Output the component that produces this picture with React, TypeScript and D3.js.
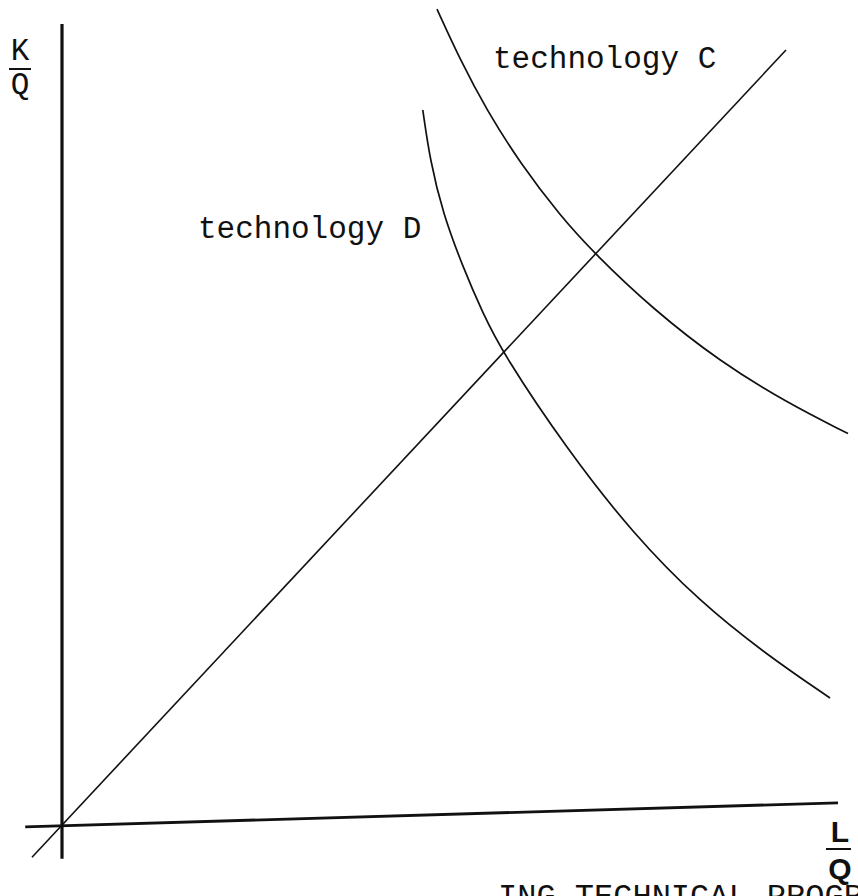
import React from "react";
import * as d3 from "d3";

type Pt = [number, number];

// Isoquant for technology C (L/Q, K/Q)
const techC: Pt[] = [
  [46.875, 102.1], [49.75, 95.8], [53.125, 89.4], [57.25, 82.9], [62.25, 76.3],
  [66.625, 71.5], [73.875, 64.6], [82.25, 58.05], [90.625, 52.9], [98.25, 49.05],
];
// Isoquant for technology D
const techD: Pt[] = [
  [45.1, 89.5], [46, 83.25], [47.6, 76.6], [50.1, 69.9], [52.6, 64.1],
  [55.1, 59.1], [63.1, 47.1], [71.4, 36.5], [79.75, 28], [88.1, 21.4], [96, 16],
];
// Ray from origin (constant K/L ratio)
const ray: Pt[] = [[-3.75, -3.9], [90.5, 97]];
// Axes
const yAxisLine: Pt[] = [[0, -4.1], [0, 100.25]];
const xAxisLine: Pt[] = [[-4.6, -0.1], [97, 2.9]];

const labelC = "technology C";
const labelD = "technology D";
const caption = "ING TECHNICAL PROGRESS";

const W = 858;
const H = 896;

export default function App() {
  const x = d3.scaleLinear().domain([0, 100]).range([62, 862]);
  const y = d3.scaleLinear().domain([0, 100]).range([826, 26]);
  const smooth = d3.line<Pt>().x((d) => x(d[0])).y((d) => y(d[1])).curve(d3.curveBasis);
  const straight = d3.line<Pt>().x((d) => x(d[0])).y((d) => y(d[1]));

  const mono = "'Liberation Mono', 'DejaVu Sans Mono', monospace";
  const sans = "'Liberation Sans', Arial, sans-serif";

  return (
    <svg
      width={W}
      height={H}
      viewBox={`0 0 ${W} ${H}`}
      style={{ position: "absolute", left: 0, top: 0, background: "#fff" }}
    >
      <rect x={0} y={0} width={W} height={H} fill="#fff" />
      {/* axes */}
      <path d={straight(yAxisLine) || ""} stroke="#111" strokeWidth={3.2} fill="none" />
      <path d={straight(xAxisLine) || ""} stroke="#111" strokeWidth={2.8} fill="none" />
      {/* ray */}
      <path d={straight(ray) || ""} stroke="#111" strokeWidth={1.6} fill="none" />
      {/* isoquants */}
      <path d={smooth(techC) || ""} stroke="#111" strokeWidth={1.7} fill="none" />
      <path d={smooth(techD) || ""} stroke="#111" strokeWidth={1.7} fill="none" />

      {/* curve labels */}
      <text x={493} y={68} fontFamily={mono} fontSize={31} fill="#111">{labelC}</text>
      <text x={198} y={238} fontFamily={mono} fontSize={31} fill="#111">{labelD}</text>

      {/* K/Q label */}
      <text x={20} y={60} fontFamily={mono} fontSize={31} textAnchor="middle" fill="#111">K</text>
      <line x1={9} x2={31} y1={69} y2={69} stroke="#111" strokeWidth={2} />
      <text x={20} y={94} fontFamily={mono} fontSize={31} textAnchor="middle" fill="#111">Q</text>

      {/* L/Q label */}
      <text x={840} y={842} fontFamily={sans} fontWeight="bold" fontSize={30} textAnchor="middle" fill="#111">L</text>
      <line x1={826} x2={851} y1={849} y2={849} stroke="#111" strokeWidth={2} />
      <text x={840} y={879} fontFamily={sans} fontWeight="bold" fontSize={30} textAnchor="middle" fill="#111">Q</text>

      {/* cut-off caption */}
      <text x={498} y={906} fontFamily={mono} fontSize={32} fill="#111">{caption}</text>
    </svg>
  );
}
